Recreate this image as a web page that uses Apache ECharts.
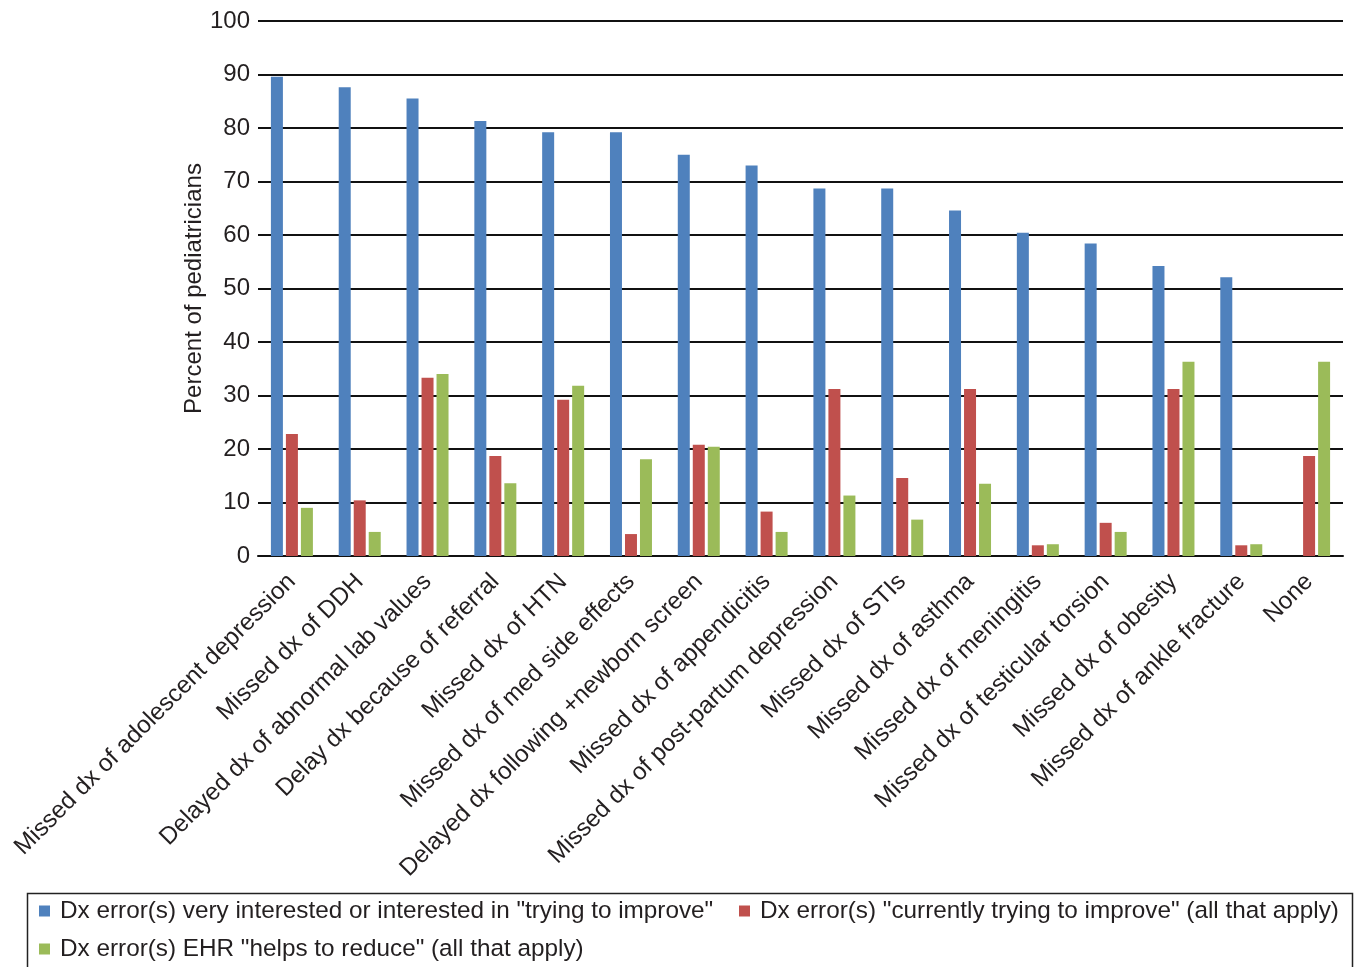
<!DOCTYPE html>
<html>
<head>
<meta charset="utf-8">
<script src="https://cdn.jsdelivr.net/npm/echarts@6/dist/echarts.min.js"></script>
<style>
html,body{margin:0;padding:0;background:#fff;}
#chart{width:1358px;height:967px;}
</style>
</head>
<body>
<div id="chart"></div>
<script>
const categories = [
  "Missed dx of adolescent depression",
  "Missed dx of DDH",
  "Delayed dx of abnormal lab values",
  "Delay dx because of referral",
  "Missed dx of HTN",
  "Missed dx of med side effects",
  "Delayed dx following +newborn screen",
  "Missed dx of appendicitis",
  "Missed dx of post-partum depression",
  "Missed dx of STIs",
  "Missed dx of asthma",
  "Missed dx of meningitis",
  "Missed dx of testicular torsion",
  "Missed dx of obesity",
  "Missed dx of ankle fracture",
  "None"
];
const seriesNames = [
  'Dx error(s) very interested or interested in "trying to improve"',
  'Dx error(s) "currently trying to improve" (all that apply)',
  'Dx error(s) EHR "helps to reduce" (all that apply)'
];
const interested = [89.6, 87.6, 85.5, 81.3, 79.2, 79.2, 75.0, 73.0, 68.7, 68.7, 64.6, 60.4, 58.4, 54.2, 52.1, 0];
const currently  = [22.8, 10.4, 33.3, 18.7, 29.2, 4.1, 20.8, 8.3, 31.2, 14.6, 31.2, 2.0, 6.2, 31.2, 2.0, 18.7];
const ehrHelps   = [9.0, 4.5, 34.0, 13.6, 31.8, 18.1, 20.4, 4.5, 11.3, 6.8, 13.5, 2.2, 4.5, 36.3, 2.2, 36.3];
const yTicks = [0, 10, 20, 30, 40, 50, 60, 70, 80, 90, 100];

const colors = ['#4F81BD', '#C0504D', '#9BBB59'];
const FONT = '"Liberation Sans", Arial, Helvetica, sans-serif';
const TXT = '#231F20';

const chart = echarts.init(document.getElementById('chart'), null, {renderer: 'canvas'});

function legendAt(idx, left, top) {
  return {
    show: true,
    data: [seriesNames[idx]],
    left: left, top: top,
    padding: 0,
    itemWidth: 11, itemHeight: 11,
    icon: 'rect',
    selectedMode: false,
    textStyle: {fontFamily: FONT, fontSize: 24.3, color: TXT, padding: [0, 0, 0, 5], lineHeight: 28}
  };
}

const option = {
  backgroundColor: '#fff',
  animation: false,
  color: colors,
  grid: {left: 258, right: 15, top: 21, bottom: 411, containLabel: false},
  legend: [
    legendAt(0, 39, 897),
    legendAt(1, 739, 897),
    legendAt(2, 39, 935)
  ],
  graphic: [{
    type: 'rect',
    shape: {x: 27.5, y: 893.5, width: 1325, height: 100},
    style: {fill: 'none', stroke: '#222', lineWidth: 1.5},
    silent: true
  }],
  xAxis: {
    type: 'category',
    data: categories,
    axisLine: {show: true, lineStyle: {color: '#111', width: 2}},
    axisTick: {show: false},
    axisLabel: {
      interval: 0, rotate: 45, margin: 22,
      fontFamily: FONT, fontSize: 24.3, color: TXT
    },
    splitLine: {show: false}
  },
  yAxis: {
    type: 'value',
    min: yTicks[0], max: yTicks[yTicks.length - 1], interval: 10,
    name: 'Percent of pediatricians',
    nameLocation: 'middle',
    nameGap: 52,
    nameMoveOverlap: false,
    nameTextStyle: {fontFamily: FONT, fontSize: 24, color: TXT},
    axisLine: {show: false},
    axisTick: {show: false},
    axisLabel: {margin: 8, fontFamily: FONT, fontSize: 24, color: TXT},
    splitLine: {show: true, lineStyle: {color: '#111', width: 2}}
  },
  series: [
    {name: seriesNames[0], type: 'bar', data: interested, barWidth: 12, barGap: '25%', itemStyle: {color: colors[0]}},
    {name: seriesNames[1], type: 'bar', data: currently, barWidth: 12, barGap: '25%', itemStyle: {color: colors[1]}},
    {name: seriesNames[2], type: 'bar', data: ehrHelps, barWidth: 12, barGap: '25%', itemStyle: {color: colors[2]}}
  ]
};
chart.setOption(option);
</script>
</body>
</html>
